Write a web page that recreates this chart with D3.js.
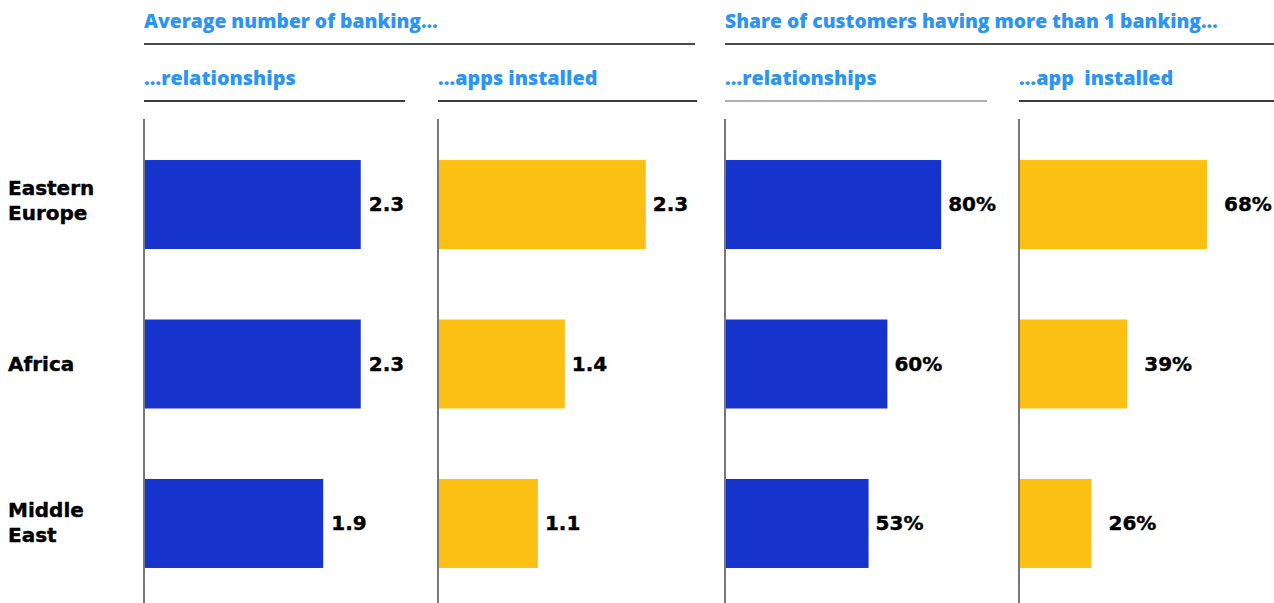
<!DOCTYPE html>
<html>
<head>
<meta charset="utf-8">
<script src="https://cdn.jsdelivr.net/npm/d3@7"></script>
<style>
  html, body { margin: 0; padding: 0; background: #fff; }
  svg { display: block; }
  .hdr { font-family: "Open Sans", sans-serif; font-weight: 800; fill: #2b95f1; white-space: pre; }
  .cat { font-family: "DejaVu Sans", sans-serif; font-weight: bold; fill: #000; }
  .val { font-family: "DejaVu Sans", sans-serif; font-weight: bold; fill: #000; }
</style>
</head>
<body>
<svg id="chart" width="1274" height="603"></svg>
<script>
// ---- data ----
const categories = ["Eastern Europe", "Africa", "Middle East"];
const groupTitles = ["Average number of banking…", "Share of customers having more than 1 banking…"];
const panelTitles = ["…relationships", "…apps installed", "…relationships", "…app  installed"];
const avgRelationships = [2.3, 2.3, 1.9];
const avgApps = [2.3, 1.4, 1.1];
const shareRelationships = [80, 60, 53];
const shareApps = [68, 39, 26];

const blue = "#1634cb";
const yellow = "#fcc015";

const svg = d3.select("#chart");

const y = d3.scaleBand()
  .domain(categories)
  .range([120, 608])
  .paddingInner(0.442)
  .paddingOuter(0.251);

const panels = [
  { title: panelTitles[0], values: avgRelationships, color: blue, x0: 144, pxPerUnit: 93.8, fmt: d3.format(".1f"), gap: 8, lineEnd: 405, lineColor: "#3a3a3a" },
  { title: panelTitles[1], values: avgApps, color: yellow, x0: 438, pxPerUnit: 89.9, fmt: d3.format(".1f"), gap: 7, lineEnd: 697, lineColor: "#3a3a3a" },
  { title: panelTitles[2], values: shareRelationships, color: blue, x0: 725, pxPerUnit: 2.69, fmt: d => d + "%", gap: 7, lineEnd: 987, lineColor: "#b0b0b0" },
  { title: panelTitles[3], values: shareApps, color: yellow, x0: 1019, pxPerUnit: 2.75, fmt: d => d + "%", gap: 17, lineEnd: 1274, lineColor: "#3a3a3a" }
];

// group headers
const groups = [
  { title: groupTitles[0], x0: 144, x1: 695 },
  { title: groupTitles[1], x0: 725, x1: 1274 }
];
groups.forEach(g => {
  svg.append("text").attr("class", "hdr").attr("x", g.x0).attr("y", 28)
    .style("font-size", "19.3px").text(g.title);
  svg.append("line").attr("x1", g.x0).attr("x2", g.x1).attr("y1", 44).attr("y2", 44)
    .attr("stroke", "#111").attr("stroke-width", 1.5);
});

panels.forEach(p => {
  const x = d3.scaleLinear().domain([0, 1]).range([p.x0 + 1, p.x0 + 1 + p.pxPerUnit]);
  const g = svg.append("g");
  g.append("text").attr("class", "hdr").attr("x", p.x0).attr("y", 85)
    .style("font-size", "19.8px").text(p.title);
  g.append("line").attr("x1", p.x0).attr("x2", p.lineEnd).attr("y1", 101).attr("y2", 101)
    .attr("stroke", p.lineColor).attr("stroke-width", 2);
  g.selectAll("rect").data(p.values).join("rect")
    .attr("x", x(0))
    .attr("y", (d, i) => y(categories[i]))
    .attr("width", d => x(d) - x(0))
    .attr("height", y.bandwidth())
    .attr("fill", p.color);
  g.selectAll("text.val").data(p.values).join("text")
    .attr("class", "val")
    .attr("x", d => x(d) + p.gap)
    .attr("y", (d, i) => y(categories[i]) + y.bandwidth() / 2)
    .attr("dy", "0.34em")
    .style("font-size", "20px")
    .style("stroke", "#000").style("stroke-width", 0.4)
    .text(d => p.fmt(d));
  g.append("line").attr("x1", p.x0).attr("x2", p.x0).attr("y1", 119).attr("y2", 603)
    .attr("stroke", "#4a4a4a").attr("stroke-width", 1.5);
});

// category labels
const catLines = { "Eastern Europe": ["Eastern", "Europe"], "Africa": ["Africa"], "Middle East": ["Middle", "East"] };
const catShift = { "Eastern Europe": -4, "Africa": 0, "Middle East": -1 };
categories.forEach(c => {
  const lines = catLines[c];
  const cy = y(c) + y.bandwidth() / 2 + catShift[c];
  const lh = 25;
  const t = svg.append("text").attr("class", "cat").attr("x", 8).style("font-size", "20px")
    .style("stroke", "#000").style("stroke-width", 0.4);
  lines.forEach((l, i) => {
    t.append("tspan").attr("x", 8)
      .attr("y", cy + (i - (lines.length - 1) / 2) * lh)
      .attr("dy", "0.36em").text(l);
  });
});
</script>
</body>
</html>
